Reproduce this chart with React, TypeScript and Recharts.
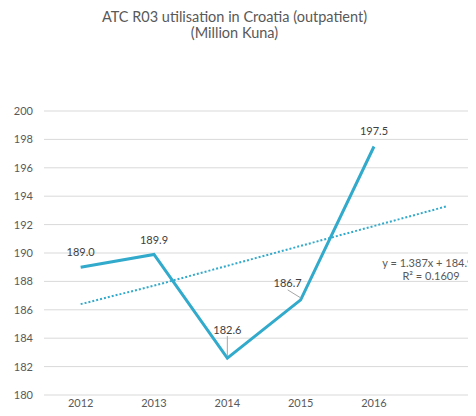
import React from "react";
import { LineChart, Line, XAxis, YAxis, CartesianGrid, LabelList } from "recharts";

const years = ["2012", "2013", "2014", "2015", "2016", ""];
const spending = [189.0, 189.9, 182.6, 186.7, 197.5, null];
const trend = [186.4, 187.7, 189.1, 190.5, 191.9, 193.3];
const yTicks = [180, 182, 184, 186, 188, 190, 192, 194, 196, 198, 200];

const data = years.map((year, i) => ({
    year,
    value: spending[i],
    trend: trend[i],
}));

const lineColor = "#31aacb";
const font = "Lato, 'Open Sans', sans-serif";

// where each data label sits relative to its point, and whether it gets a leader line
const labelPlacement = [
    { dx: 0, dy: -16, leader: false },
    { dx: 0, dy: -15, leader: false },
    { dx: 0, dy: -29, leader: true },
    { dx: -13, dy: -17, leader: true },
    { dx: 0, dy: -16, leader: false },
];

const ValueLabel = (props: any) => {
    const { x, y, value, index } = props;
    if (value === null || value === undefined) return null;
    const p = labelPlacement[index] || { dx: 0, dy: -16, leader: false };
    const lx = x + p.dx;
    const ly = y + p.dy;
    return (
        <g>
            {p.leader && (
                <line
                    x1={lx}
                    y1={ly + 7}
                    x2={x}
                    y2={y - 2}
                    stroke="#a6a6a6"
                    strokeWidth={1}
                />
            )}
            <text
                x={lx}
                y={ly}
                textAnchor="middle"
                dominantBaseline="central"
                fontSize={11}
                fill="#404040"
                fontFamily={font}
            >
                {Number(value).toFixed(1)}
            </text>
        </g>
    );
};

const App = () => {
    return (
        <div
            style={{
                position: "relative",
                margin: -8,
                width: 476,
                height: 416,
                overflow: "hidden",
                background: "#ffffff",
                fontFamily: font,
            }}
        >
            <div
                style={{
                    position: "absolute",
                    top: 9,
                    left: 0,
                    width: 469,
                    textAlign: "center",
                    fontSize: 14.5,
                    lineHeight: "16px",
                    color: "#595959",
                }}
            >
                <div>ATC R03 utilisation in Croatia (outpatient)</div>
                <div>(Million Kuna)</div>
            </div>
            <div style={{ position: "absolute", top: 0, left: 0 }}>
                <LineChart
                    width={500}
                    height={416}
                    data={data}
                    margin={{ top: 111, right: 16, left: 0, bottom: 0 }}
                >
                    <CartesianGrid vertical={false} stroke="#d9d9d9" />
                    <XAxis
                        dataKey="year"
                        scale="band"
                        axisLine={false}
                        tickLine={false}
                        tickSize={0}
                        tickMargin={4}
                        height={21}
                        interval={0}
                        tick={{ fontSize: 11, fill: "#595959", fontFamily: font }}
                    />
                    <YAxis
                        domain={[180, 200]}
                        ticks={yTicks}
                        axisLine={false}
                        tickLine={false}
                        tickSize={0}
                        tickMargin={11}
                        width={44}
                        tick={{ fontSize: 11, fill: "#595959", fontFamily: font }}
                    />
                    <Line
                        dataKey="trend"
                        stroke={lineColor}
                        strokeWidth={2}
                        strokeDasharray="2 2"
                        dot={false}
                        isAnimationActive={false}
                    />
                    <Line
                        dataKey="value"
                        stroke={lineColor}
                        strokeWidth={3}
                        dot={false}
                        isAnimationActive={false}
                    >
                        <LabelList dataKey="value" content={ValueLabel} />
                    </Line>
                </LineChart>
            </div>
            <div
                style={{
                    position: "absolute",
                    left: 381,
                    top: 256,
                    width: 100,
                    textAlign: "center",
                    fontSize: 11,
                    lineHeight: "13px",
                    color: "#595959",
                    whiteSpace: "nowrap",
                }}
            >
                <div>y = 1.387x + 184.98</div>
                <div>R² = 0.1609</div>
            </div>
        </div>
    );
};

export default App;
